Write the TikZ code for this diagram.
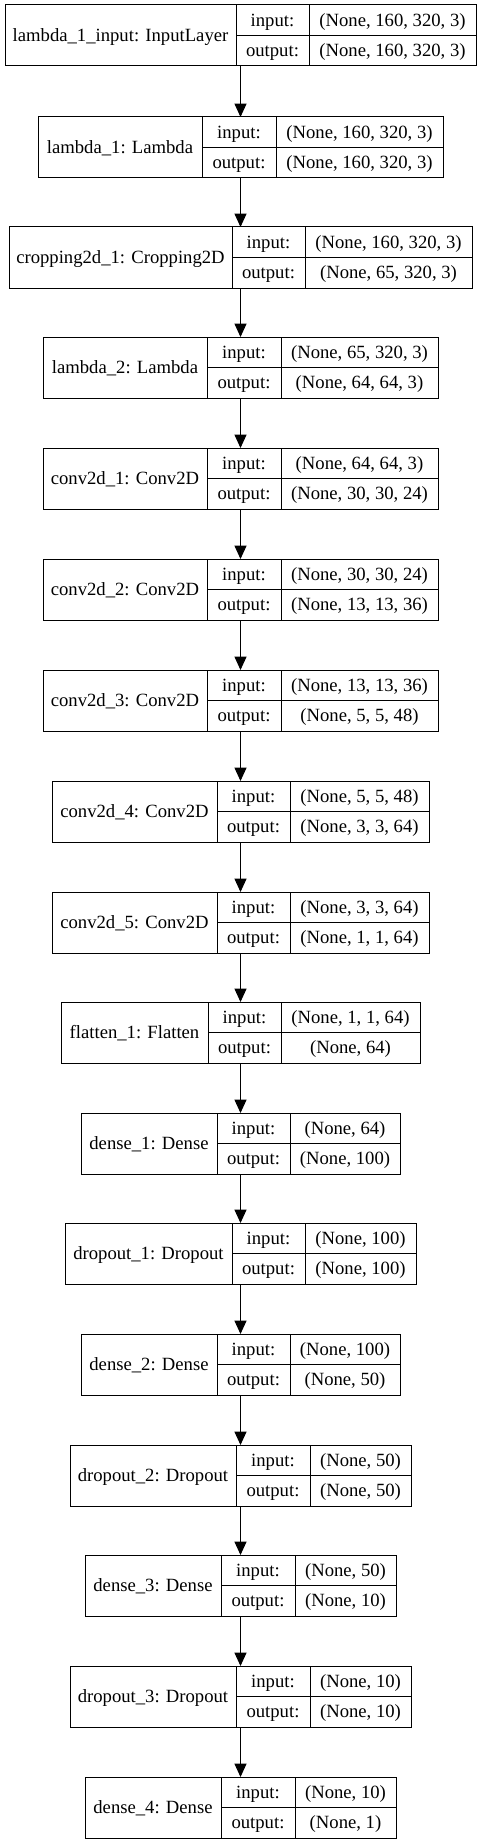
\documentclass[tikz,border=0pt]{standalone}
\usepackage{fontspec}
\setmainfont{Liberation Serif}
\usetikzlibrary{arrows.meta}

% one keras layer: name, top, left, split1, split2, right, label, input, output
\newcommand{\layerrec}[9]{%
\node [recbox,minimum width={(#6-#3)*0.75pt},anchor=north west] (#1) at (#3,#2) {};
\draw [cellline] (#4,#2) -- (#4,{#2+61}) (#5,#2) -- (#5,{#2+61})
  (#4,{#2+30.5}) -- (#6,{#2+30.5});
\node [txt] (#1-name) at ({(#3+#4)/2},{#2+30.5}) {#7};
\node [txt] (#1-inlab) at ({(#4+#5)/2},{#2+15.25}) {input:};
\node [txt] (#1-outlab) at ({(#4+#5)/2},{#2+45.75}) {output:};
\node [txt] (#1-in) at ({(#5+#6)/2},{#2+15.25}) {#8};
\node [txt] (#1-out) at ({(#5+#6)/2},{#2+45.75}) {#9};
}

\begin{document}
\begin{tikzpicture}
[x=0.75pt,y=-0.75pt,
recbox/.style={draw,line width=0.75pt,minimum height=45.75pt,inner sep=0pt,outer sep=0pt},
cellline/.style={line width=0.75pt},
txt/.style={inner sep=0pt,text height=12pt,text depth=3pt,font=\fontsize{14}{16.8}\selectfont},
flow/.style={line width=0.75pt,-{Triangle[length=10pt,width=9pt]}}]
\useasboundingbox (0,0) rectangle (481,1844);
\layerrec{input}{5}{5}{236}{309}{476}{lambda\_1\_input: InputLayer}{(None, 160, 320, 3)}{(None, 160, 320, 3)}
\layerrec{lambda1}{117}{38}{202}{276}{443}{lambda\_1: Lambda}{(None, 160, 320, 3)}{(None, 160, 320, 3)}
\layerrec{crop}{227}{9}{232}{305}{472}{cropping2d\_1: Cropping2D}{(None, 160, 320, 3)}{(None, 65, 320, 3)}
\layerrec{lambda2}{337}{43}{207}{281}{438}{lambda\_2: Lambda}{(None, 65, 320, 3)}{(None, 64, 64, 3)}
\layerrec{conv1}{448}{43}{207}{281}{438}{conv2d\_1: Conv2D}{(None, 64, 64, 3)}{(None, 30, 30, 24)}
\layerrec{conv2}{559}{43}{207}{281}{438}{conv2d\_2: Conv2D}{(None, 30, 30, 24)}{(None, 13, 13, 36)}
\layerrec{conv3}{670}{43}{207}{281}{438}{conv2d\_3: Conv2D}{(None, 13, 13, 36)}{(None, 5, 5, 48)}
\layerrec{conv4}{781}{52}{217}{290}{429}{conv2d\_4: Conv2D}{(None, 5, 5, 48)}{(None, 3, 3, 64)}
\layerrec{conv5}{892}{52}{217}{290}{429}{conv2d\_5: Conv2D}{(None, 3, 3, 64)}{(None, 1, 1, 64)}
\layerrec{flatten}{1002}{61}{208}{281}{420}{flatten\_1: Flatten}{(None, 1, 1, 64)}{(None, 64)}
\layerrec{dense1}{1113}{81}{217}{290}{400}{dense\_1: Dense}{(None, 64)}{(None, 100)}
\layerrec{drop1}{1223}{65}{232}{305}{416}{dropout\_1: Dropout}{(None, 100)}{(None, 100)}
\layerrec{dense2}{1334}{81}{217}{290}{400}{dense\_2: Dense}{(None, 100)}{(None, 50)}
\layerrec{drop2}{1445}{70}{236}{310}{411}{dropout\_2: Dropout}{(None, 50)}{(None, 50)}
\layerrec{dense3}{1555}{85}{221}{295}{396}{dense\_3: Dense}{(None, 50)}{(None, 10)}
\layerrec{drop3}{1666}{70}{236}{310}{411}{dropout\_3: Dropout}{(None, 10)}{(None, 10)}
\layerrec{dense4}{1777}{85}{221}{295}{396}{dense\_4: Dense}{(None, 10)}{(None, 1)}
\foreach \a/\b in {input/lambda1,lambda1/crop,crop/lambda2,lambda2/conv1,conv1/conv2,
  conv2/conv3,conv3/conv4,conv4/conv5,conv5/flatten,flatten/dense1,dense1/drop1,
  drop1/dense2,dense2/drop2,drop2/dense3,dense3/drop3,drop3/dense4}
  \draw [flow] (\a.south) -- (\b.north);
\end{tikzpicture}
\end{document}
